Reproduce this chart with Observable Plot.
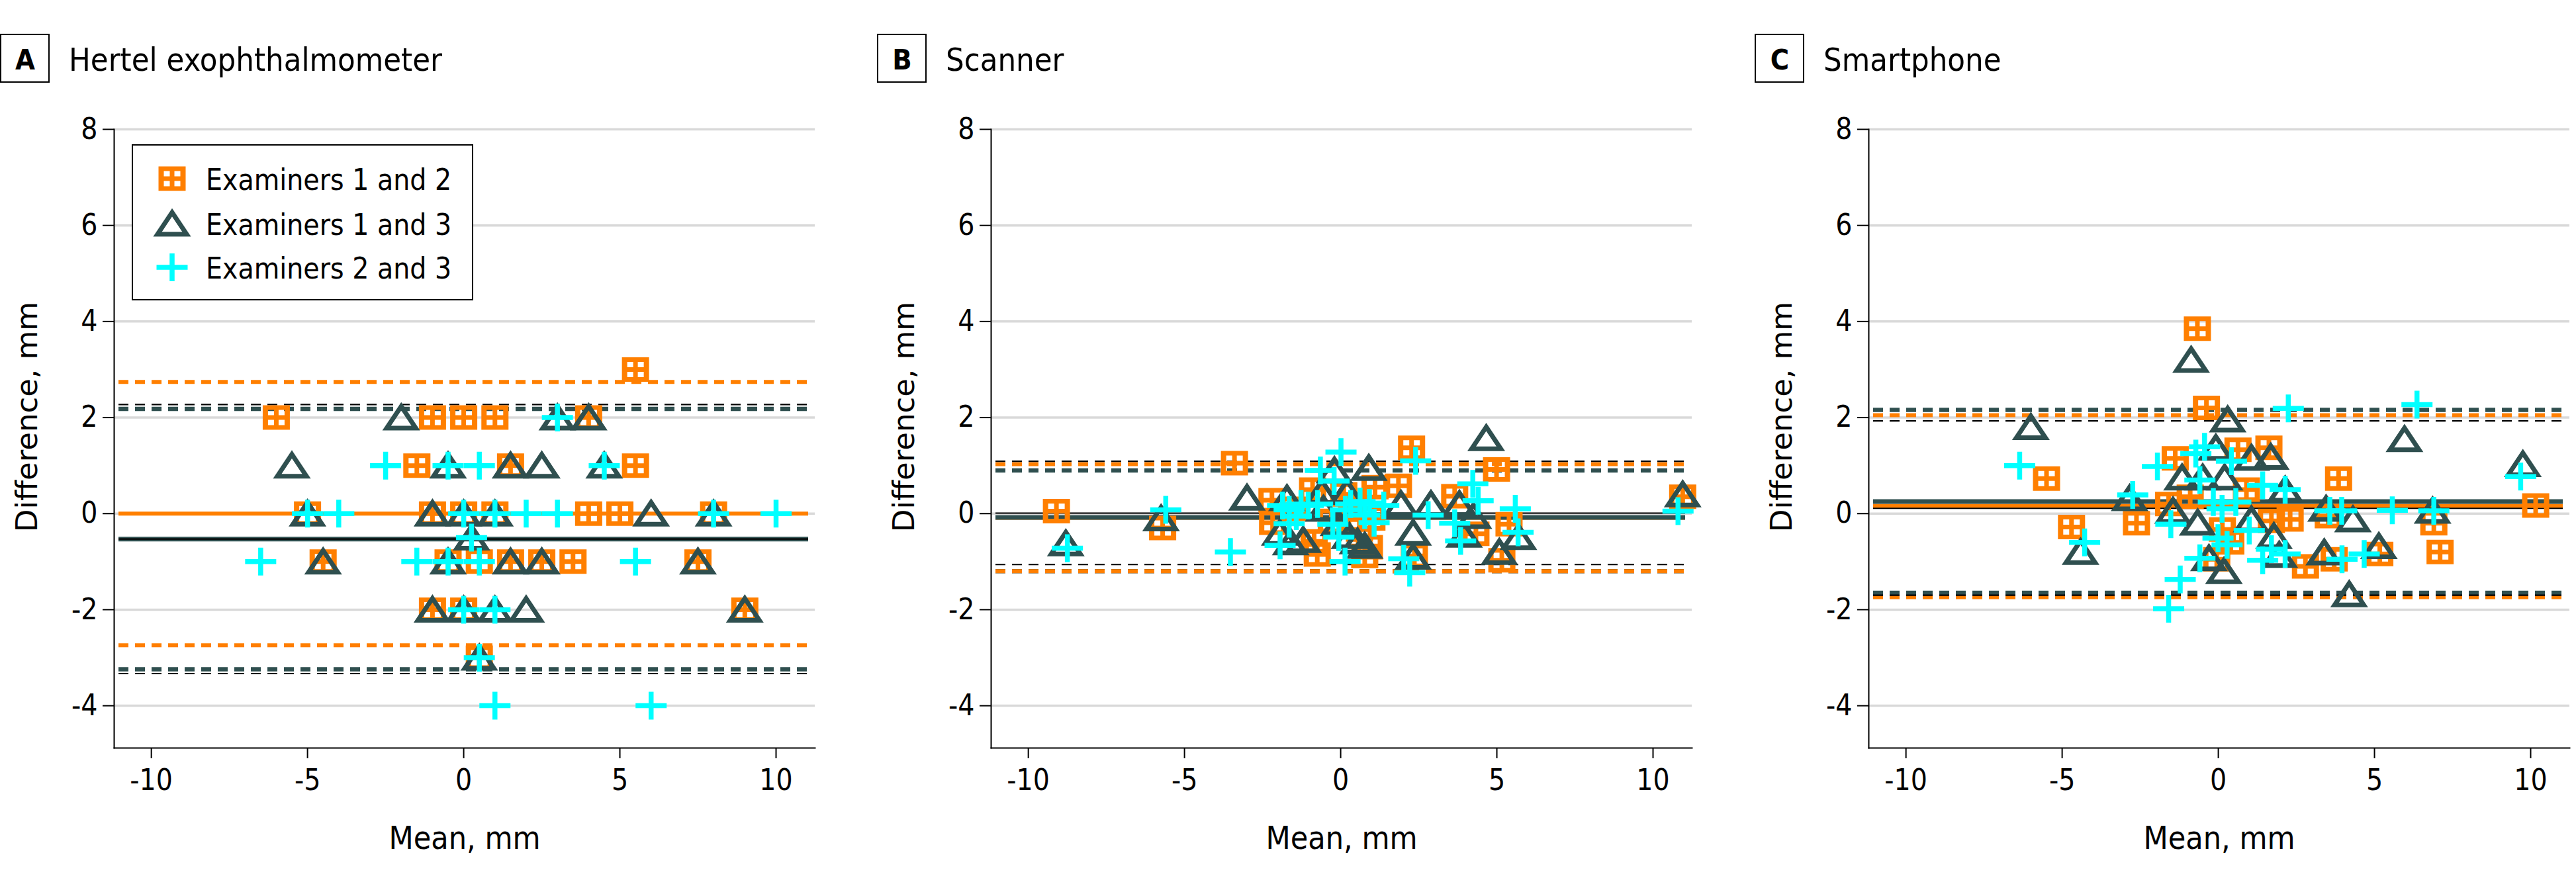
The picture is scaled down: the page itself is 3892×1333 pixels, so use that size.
<!DOCTYPE html>
<html><head><meta charset="utf-8">
<script src="https://cdn.jsdelivr.net/npm/d3@7"></script>
<script src="https://cdn.jsdelivr.net/npm/@observablehq/plot@0.6"></script>
<style>
html,body{margin:0;padding:0;background:#fff;}
body{width:3892px;height:1333px;overflow:hidden;font-family:"DejaVu Sans Condensed","DejaVu Sans",sans-serif;}
#row{position:relative;width:3892px;height:1333px;}
.panel{position:absolute;top:0;width:1326px;height:1333px;}
.head{position:absolute;left:0;top:0;}
.plot{position:absolute;left:0;top:150px;}
.legend{position:absolute;left:199px;top:218px;}
</style></head>
<body><div id="row"></div>
<script>
// ---------- data ----------
const xTicks = [-10, -5, 0, 5, 10];
const yTicks = [-4, -2, 0, 2, 4, 6, 8];
const seriesNames = ["Examiners 1 and 2", "Examiners 1 and 3", "Examiners 2 and 3"];

// Panel A: Hertel exophthalmometer  [mean, difference]
const hertel12 = [[5.5,3],[-6,2],[-1,2],[0,2],[1,2],[4,2],[-1.5,1],[1.5,1],[5.5,1],
  [-5,0],[-1,0],[0,0],[1,0],[4,0],[5,0],[8,0],[-4.5,-1],[-0.5,-1],[0.5,-1],[1.5,-1],[2.5,-1],[3.5,-1],[7.5,-1],
  [-1,-2],[0,-2],[9,-2],[0.5,-3]];
const hertel13 = [[-2,2],[3,2],[4,2],[-5.5,1],[-0.5,1],[1.5,1],[2.5,1],[4.5,1],
  [-5,0],[-1,0],[0,0],[1,0],[6,0],[8,0],[0.25,-0.5],[-4.5,-1],[-0.5,-1],[1.5,-1],[2.5,-1],[7.5,-1],
  [-1,-2],[0,-2],[1,-2],[2,-2],[9,-2],[0.5,-3]];
const hertel23 = [[3,2],[-2.5,1],[-0.5,1],[0.5,1],[4.5,1],[-5,0],[-4,0],[0,0],[1,0],[2,0],[3,0],[8,0],[10,0],
  [0.25,-0.5],[-6.5,-1],[-1.5,-1],[-0.5,-1],[0.5,-1],[5.5,-1],[0,-2],[1,-2],[0.5,-3],[1,-4],[6,-4]];
const hertelMean  = [0, -0.53, -0.53];
const hertelUpper = [2.74, 2.18, 2.27];
const hertelLower = [-2.74, -3.24, -3.33];

// Panel B: Scanner
const scanner12 = [[-9.1,0.05],[-5.7,-0.3],[-3.4,1.05],[-2.2,0.28],[-2.18,-0.19],[-0.9,0.5],[0.1,0.4],[0.6,-0.33],
  [-0.85,-0.58],[-0.75,-0.85],[0.92,-0.7],[0.77,-0.88],[1.1,0.55],[1.85,0.58],[2.27,1.37],[2.36,-0.88],[3.65,0.36],
  [4.33,-0.42],[4.99,0.92],[5.39,-0.22],[5.16,-0.97],[10.95,0.35],[-1.5,0.1],[-0.3,-0.15],[0.35,0.15],[1.0,-0.1]];
const scanner13 = [[-8.8,-0.62],[-5.75,-0.1],[-3.0,0.33],[4.66,1.57],[10.95,0.4],[0.9,0.95],[-0.2,0.9],[-1.72,0.32],
  [1.93,0.2],[2.89,0.2],[3.8,0.2],[4.25,-0.05],[2.32,-0.4],[3.95,-0.44],[5.69,-0.49],[5.08,-0.8],[2.32,-0.9],
  [-1.95,-0.4],[-1.6,-0.6],[0.54,-0.58],[0.77,-0.67],[-0.55,0.1],[0.2,0.45],[-1.2,-0.55],[-0.6,0.45],[-0.07,-0.2],[0.28,-0.47]];
const scanner23 = [[-8.75,-0.72],[-5.6,0.08],[-3.53,-0.8],[-1.94,-0.66],[0.01,1.28],[2.4,1.1],[-0.65,0.9],[-0.21,0.68],
  [4.23,0.62],[4.4,0.27],[5.59,0.1],[5.68,-0.39],[3.65,-0.2],[3.84,-0.57],[2.8,-0.03],[2.02,-0.94],[2.21,-1.23],
  [0.14,-1.0],[-0.06,-0.49],[-0.25,-0.22],[-1.65,0.08],[-1.42,-0.05],[-1.86,0.17],[-1.04,0.17],[-1.65,-0.21],
  [-1.27,0.2],[-0.74,0.2],[0.32,0.2],[0.62,0.25],[0.92,0.22],[1.07,-0.19],[0.15,0.08],[0.77,-0.03],[1.38,0.17],[10.8,0.05]];
const scannerMean  = [-0.085, -0.08, 0.01];
const scannerUpper = [1.03, 0.90, 1.09];
const scannerLower = [-1.20, -1.20, -1.06];

// Panel C: Smartphone
const phone12 = [[-0.67,3.85],[-0.38,2.2],[-5.5,0.73],[-4.7,-0.28],[-2.62,-0.2],[3.85,0.73],[10.16,0.17],[7.1,-0.8],
  [6.9,-0.2],[5.17,-0.84],[2.79,-1.1],[3.71,-0.95],[0.63,1.33],[1.62,1.37],[-1.38,1.15],[2.3,-0.12],[3.52,-0.05],
  [-1.59,0.2],[0.13,-0.33],[-0.05,-0.95],[0.9,0.5],[1.7,-0.15],[-0.9,0.35],[0.4,-0.6]];
const phone13 = [[-0.87,3.2],[-6.0,1.8],[0.3,1.96],[5.96,1.55],[9.75,1.03],[-4.41,-0.8],[-2.84,0.32],[4.19,-1.68],
  [4.31,-0.12],[6.86,0.06],[5.14,-0.68],[3.39,-0.81],[3.45,0.1],[1.78,-0.47],[0.18,-1.2],[-0.3,-0.93],[-0.66,-0.19],
  [1.06,1.16],[1.68,1.18],[-0.08,1.37],[-1.16,0.75],[-0.5,0.75],[0.2,0.75],[2.14,0.5],[-1.45,0.06],[1.06,-0.12],[1.95,-0.86]];
const phone23 = [[2.24,2.19],[6.36,2.27],[-6.36,1.0],[9.68,0.77],[-4.28,-0.6],[-2.74,0.39],[-1.95,0.98],[-1.22,-1.37],
  [-1.59,-1.98],[5.57,0.07],[6.9,0.06],[3.57,0.06],[3.95,0.06],[4.67,-0.84],[3.96,-0.95],[1.42,-0.97],[2.14,-0.84],
  [1.7,-0.74],[-0.01,-0.51],[0.28,-0.65],[-0.59,-0.93],[-1.52,-0.22],[0.99,-0.35],[2.14,0.5],[1.42,0.59],[0.42,1.09],
  [-0.44,1.39],[-0.72,1.25],[-0.59,0.7],[-0.16,0.24],[0.12,0.1],[0.56,0.24]];
const phoneMean  = [0.16, 0.25, 0.11];
const phoneUpper = [2.05, 2.16, 1.93];
const phoneLower = [-1.74, -1.65, -1.70];

// ---------- styling ----------
const ORANGE = "#ff7f00", TEAL = "#2f4f4f", CYAN = "#00ffff";
const FONT = "'DejaVu Sans Condensed', 'DejaVu Sans', sans-serif";

const symSquare = {draw(ctx) {
  const W = 20.5, H = 18.5;
  ctx.moveTo(-W, -H); ctx.lineTo(W, -H); ctx.lineTo(W, H); ctx.lineTo(-W, H); ctx.closePath();
  for (const [x0, y0] of [[-12.5, -11.5], [3.5, -11.5], [-12.5, 3.5], [3.5, 3.5]]) {
    ctx.moveTo(x0, y0); ctx.lineTo(x0, y0 + 8); ctx.lineTo(x0 + 9, y0 + 8); ctx.lineTo(x0 + 9, y0); ctx.closePath();
  }
}};
const symTri = {draw(ctx) { ctx.moveTo(0, -17); ctx.lineTo(22, 16); ctx.lineTo(-22, 16); ctx.closePath(); }};
const symCross = {draw(ctx) { ctx.moveTo(-23.5, 0); ctx.lineTo(23.5, 0); ctx.moveTo(0, -21); ctx.lineTo(0, 21); }};

const panels = [
  {letter: "A", title: "Hertel exophthalmometer", s: [hertel12, hertel13, hertel23], mean: hertelMean, upper: hertelUpper, lower: hertelLower, legend: true},
  {letter: "B", title: "Scanner", s: [scanner12, scanner13, scanner23], mean: scannerMean, upper: scannerUpper, lower: scannerLower},
  {letter: "C", title: "Smartphone", s: [phone12, phone13, phone23], mean: phoneMean, upper: phoneUpper, lower: phoneLower}
];
const lefts = [0, 1325, 2651];
const PW = 1326;

const row = document.getElementById("row");
panels.forEach((p, i) => {
  const div = document.createElement("div");
  div.className = "panel";
  div.style.left = lefts[i] + "px";
  row.appendChild(div);

  // header: lettered box + panel title
  const head = d3.create("svg").attr("class", "head").attr("width", PW).attr("height", 150);
  head.append("rect").attr("x", 1).attr("y", 52).attr("width", 73).attr("height", 72)
    .attr("fill", "none").attr("stroke", "#000").attr("stroke-width", 2);
  head.append("text").attr("x", 38).attr("y", 105).attr("text-anchor", "middle")
    .attr("font-family", FONT).attr("font-weight", "bold").attr("font-size", 43).text(p.letter);
  head.append("text").attr("x", 104).attr("y", 107)
    .attr("font-family", FONT).attr("font-size", 48.5).text(p.title);
  div.appendChild(head.node());

  const st = [
    {stroke: ORANGE, w: 6, mw: 6},
    {stroke: TEAL, w: 6.5, mw: 7},
    {stroke: "#000", w: 2.2, mw: 2.2}
  ];
  const ins = {insetLeft: 7, insetRight: 10};
  const dash = "15,10";
  // limits of agreement: teal, orange, black; mean lines: orange, teal, black
  const lineMarks = [];
  [1, 0, 2].forEach(k => lineMarks.push(Plot.ruleY([p.upper[k], p.lower[k]], {stroke: st[k].stroke, strokeWidth: st[k].w, strokeDasharray: dash, ...ins})));
  [0, 1, 2].forEach(k => lineMarks.push(Plot.ruleY([p.mean[k]], {stroke: st[k].stroke, strokeWidth: st[k].mw, ...ins})));

  const chart = Plot.plot({
    width: PW, height: 1183,
    marginLeft: 172, marginRight: 95, marginTop: 45, marginBottom: 203,
    style: {fontFamily: FONT, fontSize: "44px", color: "#000", background: "transparent", overflow: "visible"},
    x: {domain: [-11.19, 11.25]},
    y: {domain: [-4.88, 8]},
    marks: [
      Plot.ruleY(yTicks, {stroke: "#d9d9d9", strokeWidth: 3.5}),
      Plot.axisY({ticks: yTicks, tickSize: 17, tickPadding: 8, tickFormat: d => String(d), label: null, strokeWidth: 2, fontSize: 44}),
      Plot.axisX({ticks: xTicks, tickSize: 16, tickPadding: 16, tickFormat: d => String(d), label: null, strokeWidth: 2, fontSize: 44}),
      Plot.frame({anchor: "left", strokeWidth: 2}),
      Plot.frame({anchor: "bottom", strokeWidth: 2}),
      ...lineMarks,
      Plot.dot(p.s[0], {x: d => d[0], y: d => d[1], symbol: symSquare, fill: ORANGE, stroke: "none"}),
      Plot.dot(p.s[1], {x: d => d[0], y: d => d[1], symbol: symTri, fill: "none", stroke: TEAL, strokeWidth: 7, strokeLinejoin: "miter"}),
      Plot.dot(p.s[2], {x: d => d[0], y: d => d[1], symbol: symCross, fill: "none", stroke: CYAN, strokeWidth: 7.5, strokeLinecap: "butt"}),
      Plot.text(["Mean, mm"], {frameAnchor: "bottom", dy: 152, textAnchor: "middle", lineAnchor: "bottom", fontSize: 48}),
      Plot.text(["Difference, mm"], {frameAnchor: "left", rotate: -90, dx: -117, dy: -33, textAnchor: "middle", lineAnchor: "bottom", fontSize: 45, fontFamily: "'DejaVu Sans', sans-serif"})
    ]
  });
  chart.classList.add("plot");
  div.appendChild(chart);

  if (p.legend) {
    const lg = d3.create("svg").attr("class", "legend").attr("width", 516).attr("height", 236);
    lg.append("rect").attr("x", 1).attr("y", 1).attr("width", 514).attr("height", 234)
      .attr("fill", "#fff").attr("stroke", "#000").attr("stroke-width", 2);
    const syms = [symSquare, symTri, symCross];
    const cy = [52, 120, 186];
    syms.forEach((sy, k) => {
      const path = lg.append("path").attr("transform", `translate(61,${cy[k]})`).attr("d", d3.symbol(sy)());
      if (k === 0) path.attr("fill", ORANGE);
      if (k === 1) path.attr("fill", "none").attr("stroke", TEAL).attr("stroke-width", 7);
      if (k === 2) path.attr("fill", "none").attr("stroke", CYAN).attr("stroke-width", 7.5);
      lg.append("text").attr("x", 112).attr("y", cy[k] + 17).attr("font-family", FONT).attr("font-size", 44).text(seriesNames[k]);
    });
    div.appendChild(lg.node());
  }
});
</script></body></html>
